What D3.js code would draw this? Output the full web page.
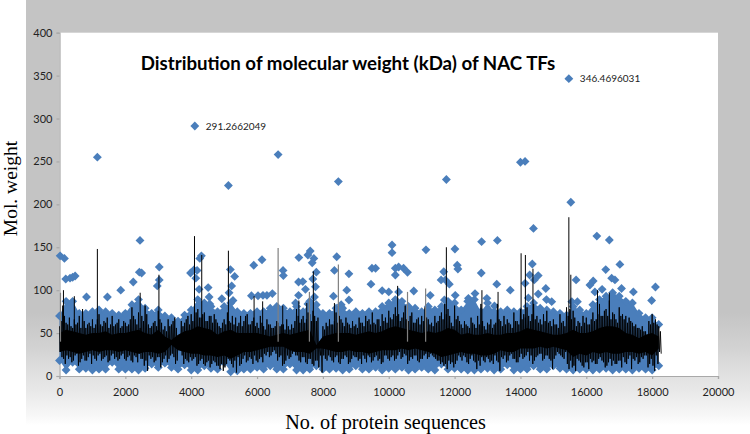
<!DOCTYPE html>
<html>
<head>
<meta charset="utf-8">
<title>Distribution of molecular weight</title>
<script src="https://cdn.jsdelivr.net/npm/d3@7"></script>
<style>
    body { margin: 0; background: #fff; }
    svg { display: block; }
    .axis text { font-family: Lato, "Open Sans", sans-serif; font-size: 11px; fill: #222; }
    .axis path, .axis line { stroke: #a9a9a9; stroke-width: 1.2; }
</style>
</head>
<body>
<script>
const SVG_DIM = {W: 750, H: 434};
const PLOT = {LEFT: 59.5, RIGHT: 718, TOP: 32.7, BOTTOM: 376};

const X_TICKS = [0, 2000, 4000, 6000, 8000, 10000, 12000, 14000, 16000, 18000, 20000];
const Y_TICKS = [0, 50, 100, 150, 200, 250, 300, 350, 400];

// single diamonds standing clear of the dense band
const OUTLIER_X = [1150, 4110, 5130, 6640, 8470, 11750, 14000, 14140, 15470, 15530,
    20, 150, 190, 320, 400, 475, 820, 1455, 1860, 2240, 2445, 2425, 2495, 3030, 3030, 2970,
    3980, 4080, 4180, 4140, 4240, 4515, 4310, 4260, 4545, 4565, 4930, 5190, 5230, 5320, 5150, 5270,
    5900, 6150, 5830, 6030, 6180, 6300, 6465, 6790, 6800, 7270, 7260, 7390, 7470, 7260, 7170,
    7545, 7615, 7725, 7675, 7695, 7800, 7775, 7745, 8420, 8350, 8790, 8725, 8320, 8790, 9490, 9460,
    7545, 7640, 8555, 14395, 16320, 16700, 17020, 10100, 10100, 11130, 12010, 12820, 13300,
    12080, 12100, 12810, 14360, 14280, 14540, 14420, 14140, 13280, 13690, 14770, 14240, 14540,
    14790, 14950, 15690, 16210, 16110, 16590, 16770, 16870, 18100, 17985, 17430, 16480, 17070, 16260,
    10200, 10300, 10200, 10450, 10570, 9600, 10760, 9800, 10000, 10300,
    11670, 11590, 11720, 11840, 11690, 12020, 11260, 12420, 12620, 12980, 13210, 15560, 15730];
const OUTLIER_Y = [255, 291.27, 222, 258, 226.5, 229, 249, 250, 346.47, 202.5,
    140, 137, 113, 114, 115, 116.5, 92, 92, 100, 109.5, 158, 121, 120, 127, 112, 105,
    120, 123.5, 123, 114, 101, 103, 140, 137, 92, 84, 90, 124, 105, 116, 97, 88,
    129, 135.5, 93.5, 93.5, 94, 94, 96, 123, 117, 138, 109.5, 110, 101, 94, 85,
    141, 145.6, 137, 132, 113, 121, 104, 92, 139, 123, 119, 100, 93, 88.5, 125.5, 107,
    84, 84, 83, 172, 163, 158.5, 130, 152.6, 143.7, 147, 148, 156.5, 158,
    129, 124.7, 120, 130.5, 117.7, 117, 112, 108, 107, 100, 102, 91, 95.5,
    89, 86.6, 112, 110.7, 106, 124, 114, 112, 103.7, 88, 98, 101, 102, 98,
    125.5, 127, 117.7, 125.5, 120.8, 125.5, 99, 99.4, 98, 98,
    121.5, 112, 112, 107, 88.5, 94, 94, 90.5, 96, 90.5, 81.5, 86.6, 86.6];

// top and bottom of the solid blue band, every 200 sequences from 0 to 18200
const BAND_X = [0, 200, 400, 600, 800, 1000, 1200, 1400, 1600, 1800,
    2000, 2200, 2400, 2600, 2800, 3000, 3200, 3400, 3600, 3800,
    4000, 4200, 4400, 4600, 4800, 5000, 5200, 5400, 5600, 5800,
    6000, 6200, 6400, 6600, 6800, 7000, 7200, 7400, 7600, 7800,
    8000, 8200, 8400, 8600, 8800, 9000, 9200, 9400, 9600, 9800,
    10000, 10200, 10400, 10600, 10800, 11000, 11200, 11400, 11600, 11800,
    12000, 12200, 12400, 12600, 12800, 13000, 13200, 13400, 13600, 13800,
    14000, 14200, 14400, 14600, 14800, 15000, 15200, 15400, 15600, 15800,
    16000, 16200, 16400, 16600, 16800, 17000, 17200, 17400, 17600, 17800,
    18000, 18200];
const BAND_TOP = [70, 87, 87, 73, 73, 75, 77, 75, 73, 71,
    73, 83, 89, 79, 73, 77, 70, 68, 64, 71,
    77, 89, 85, 81, 75, 81, 85, 75, 73, 73,
    75, 75, 79, 81, 79, 75, 81, 75, 87, 83,
    73, 73, 79, 79, 73, 75, 73, 75, 75, 81,
    85, 89, 87, 81, 79, 75, 81, 77, 81, 87,
    85, 77, 87, 89, 75, 85, 75, 75, 77, 75,
    75, 81, 85, 79, 77, 75, 73, 71, 81, 77,
    73, 83, 89, 93, 97, 93, 87, 85, 73, 68,
    68, 60];
const BAND_BOTTOM = [18, 7, 16, 8, 9, 7, 8, 8, 16, 8,
    8, 8, 7, 9, 14, 10, 15, 10, 8, 13,
    7, 7, 12, 9, 8, 16, 5, 6, 8, 8,
    10, 8, 12, 8, 8, 14, 7, 7, 8, 12,
    8, 8, 9, 7, 8, 12, 8, 8, 10, 7,
    9, 8, 10, 7, 8, 10, 8, 7, 14, 8,
    9, 8, 7, 7, 8, 9, 7, 8, 13, 7,
    8, 8, 12, 8, 8, 12, 9, 8, 7, 8,
    8, 7, 8, 9, 7, 8, 8, 7, 9, 8,
    7, 12];

// solid part of the black series, same x steps as the band
const CORE_TOP = [50, 54, 52, 50, 48, 50, 50, 52, 48, 50,
    50, 52, 54, 50, 48, 54, 46, 42, 48, 52,
    54, 58, 56, 54, 48, 52, 54, 50, 50, 50,
    50, 48, 46, 48, 50, 48, 50, 52, 54, 36,
    46, 48, 50, 50, 50, 48, 50, 52, 50, 52,
    56, 58, 56, 54, 52, 50, 52, 50, 52, 56,
    54, 48, 50, 48, 48, 50, 48, 48, 50, 50,
    52, 56, 54, 52, 50, 48, 48, 50, 54, 50,
    50, 52, 56, 58, 58, 56, 50, 48, 44, 48,
    50, 46];
const CORE_BOTTOM = [28, 30, 28, 26, 28, 30, 28, 30, 30, 28,
    30, 28, 26, 28, 28, 26, 28, 36, 30, 28,
    26, 26, 24, 24, 22, 24, 20, 24, 28, 28,
    30, 32, 34, 34, 34, 30, 28, 28, 26, 32,
    32, 30, 28, 28, 30, 28, 28, 26, 28, 30,
    30, 30, 32, 30, 32, 30, 28, 26, 22, 24,
    26, 28, 26, 26, 24, 24, 26, 30, 28, 28,
    32, 32, 32, 34, 32, 34, 32, 30, 22, 26,
    24, 28, 26, 28, 26, 26, 28, 28, 26, 28,
    24, 32];

// black series as read: highs and lows every 100 sequences from 0 to 18200
const LINE_HIGH = [58, 82, 62, 68, 56, 60, 70, 78, 56, 62,
    66, 60, 72, 58, 62, 56, 70, 60, 66, 58,
    62, 60, 80, 66, 74, 70, 82, 60, 58, 64,
    76, 62, 58, 66, 60, 68, 44, 64, 62, 70,
    72, 80, 78, 68, 74, 64, 70, 72, 62, 56,
    66, 74, 62, 60, 58, 70, 64, 72, 60, 68,
    62, 70, 58, 66, 60, 56, 64, 58, 60, 66,
    54, 56, 78, 62, 70, 66, 72, 76, 64, 40,
    58, 62, 66, 60, 74, 70, 62, 68, 60, 64,
    60, 68, 62, 70, 66, 74, 60, 66, 72, 68,
    76, 66, 80, 72, 68, 82, 64, 74, 62, 68,
    70, 80, 66, 62, 70, 64, 74, 84, 78, 62,
    82, 70, 60, 64, 58, 68, 60, 70, 84, 58,
    62, 66, 60, 84, 64, 70, 66, 60, 74, 64,
    78, 72, 80, 64, 84, 70, 66, 72, 76, 64,
    66, 60, 72, 64, 80, 78, 76, 58, 62, 70,
    68, 60, 74, 66, 84, 70, 78, 88, 74, 66,
    80, 72, 70, 68, 62, 60, 56, 58, 52, 64,
    72, 66, 58];
const LINE_LOW = [22, 14, 20, 16, 24, 12, 20, 18, 22, 14,
    20, 24, 18, 22, 16, 24, 20, 18, 24, 20,
    22, 18, 24, 16, 20, 12, 6, 20, 16, 22,
    10, 20, 16, 24, 22, 18, 34, 14, 18, 22,
    20, 12, 18, 14, 16, 10, 18, 12, 8, 6,
    14, 18, 10, 4, 12, 20, 16, 22, 14, 18,
    20, 16, 24, 22, 28, 26, 22, 12, 18, 20,
    26, 24, 18, 22, 16, 20, 14, 18, 10, 4,
    20, 24, 18, 22, 16, 20, 24, 14, 20, 22,
    18, 14, 20, 24, 16, 22, 18, 14, 24, 20,
    22, 18, 24, 20, 26, 14, 22, 24, 18, 20,
    24, 20, 26, 22, 18, 14, 12, 8, 14, 10,
    18, 22, 24, 16, 20, 18, 8, 12, 18, 22,
    16, 14, 18, 6, 20, 16, 24, 20, 16, 22,
    20, 24, 18, 14, 22, 26, 18, 24, 20, 8,
    24, 26, 22, 28, 8, 10, 6, 18, 12, 16,
    8, 16, 14, 20, 18, 10, 16, 12, 14, 18,
    10, 16, 20, 8, 18, 14, 22, 24, 10, 20,
    6, 14, 26];

// shorter peaks and dips sitting between the ones above
const MID_HIGH = [64, 70, 60, 58, 66, 62, 56, 64, 60, 58,
    56, 66, 60, 64, 68, 60, 58, 62, 56, 64,
    58, 66, 70, 60, 56, 64, 72, 56, 62, 58,
    66, 54, 52, 58, 64, 56, 40, 58, 66, 60,
    64, 74, 68, 72, 64, 70, 62, 66, 58, 62,
    60, 64, 70, 68, 62, 58, 70, 60, 64, 58,
    56, 62, 54, 60, 56, 58, 62, 60, 54, 58,
    60, 64, 70, 66, 62, 74, 64, 70, 68, 36,
    54, 58, 60, 64, 62, 66, 58, 62, 56, 58,
    56, 62, 58, 64, 60, 62, 66, 58, 64, 62,
    68, 72, 70, 64, 74, 66, 70, 62, 66, 60,
    64, 68, 60, 58, 62, 70, 66, 72, 70, 58,
    66, 64, 56, 60, 56, 62, 56, 60, 64, 54,
    60, 56, 62, 66, 58, 60, 62, 56, 64, 60,
    66, 68, 70, 72, 66, 62, 60, 64, 62, 58,
    60, 56, 62, 58, 70, 66, 68, 64, 58, 62,
    60, 66, 64, 72, 70, 76, 70, 66, 72, 62,
    70, 66, 62, 64, 58, 56, 54, 52, 48, 60,
    62, 60, 52];
const MID_LOW = [28, 20, 24, 22, 18, 26, 16, 24, 18, 26,
    24, 18, 26, 20, 24, 18, 26, 22, 20, 26,
    18, 24, 16, 22, 26, 20, 18, 24, 22, 18,
    22, 16, 24, 20, 26, 14, 32, 24, 20, 16,
    18, 22, 14, 20, 12, 18, 14, 16, 12, 14,
    10, 20, 14, 18, 22, 14, 24, 18, 20, 24,
    16, 22, 26, 28, 24, 30, 18, 24, 14, 24,
    22, 28, 24, 16, 22, 14, 20, 12, 18, 24,
    24, 18, 22, 16, 24, 14, 20, 22, 16, 24,
    22, 20, 24, 16, 22, 18, 24, 20, 16, 24,
    18, 24, 20, 28, 22, 24, 18, 20, 24, 16,
    20, 26, 22, 24, 20, 18, 16, 14, 18, 16,
    14, 24, 18, 22, 14, 24, 16, 18, 22, 16,
    20, 18, 24, 16, 22, 24, 18, 26, 20, 16,
    26, 22, 28, 24, 18, 24, 26, 20, 24, 18,
    20, 28, 24, 20, 14, 18, 12, 20, 16, 10,
    16, 20, 18, 14, 22, 16, 12, 20, 18, 14,
    18, 22, 14, 24, 20, 22, 16, 20, 24, 14,
    12, 24, 28];

// tall black peaks, plus the ones that print grey
const SPIKE_X = [120, 450, 1150, 2450, 3020, 4100, 4320, 5130, 5910, 6170, 6780, 7270, 7510, 7710,
    8350, 10270, 11750, 12830, 13320, 14020, 14150, 14380, 15470, 15530, 16340, 16700];
const SPIKE_Y = [100, 93, 148, 97, 118, 163, 141, 146, 93, 87, 82, 88, 85, 122,
    85, 105, 150, 100, 98, 143, 141, 125, 185, 118, 100, 97];
const GREY_SPIKE_X = [30, 6640, 7590, 8470, 10570, 11120];
const GREY_SPIKE_Y = [97, 149, 98, 130, 98, 102];

const LABEL_X = [4110, 15470];
const LABEL_Y = [291.27, 346.47];
const LABEL_TEXT = ['291.2662049', '346.4696031'];

const BLUE = '#4a7ebb';

const svg = d3.select('body').append('svg')
    .attr('width', SVG_DIM.W)
    .attr('height', SVG_DIM.H);

// grey slide background, fades out in steps towards the bottom
const fade = svg.append('defs').append('linearGradient')
    .attr('id', 'fade')
    .attr('x1', 0).attr('x2', 0).attr('y1', 0).attr('y2', 1);
[[0, '#c4c4c4'], [0.72, '#c4c4c4'], [0.8, '#d2d2d2'], [0.85, '#dedede'], [0.9, '#e8e8e8'],
    [0.93, '#f0f0f0'], [0.96, '#f8f8f8'], [0.98, '#ffffff']].forEach(s => {
    fade.append('stop').attr('offset', s[0]).attr('stop-color', s[1]);
});

svg.append('rect')
    .attr('x', 26).attr('y', 0)
    .attr('width', SVG_DIM.W - 26).attr('height', SVG_DIM.H)
    .attr('fill', 'url(#fade)');

svg.append('rect')
    .attr('x', PLOT.LEFT).attr('y', PLOT.TOP)
    .attr('width', PLOT.RIGHT - PLOT.LEFT).attr('height', PLOT.BOTTOM - PLOT.TOP)
    .attr('fill', '#fff');

const x = d3.scaleLinear().domain([0, 20000]).range([PLOT.LEFT, PLOT.RIGHT]);
const y = d3.scaleLinear().domain([0, 400]).range([PLOT.BOTTOM, PLOT.TOP]);

// axes
svg.append('g')
    .attr('class', 'axis')
    .attr('transform', 'translate(0,' + PLOT.BOTTOM + ')')
    .call(d3.axisBottom(x).tickValues(X_TICKS).tickFormat(d3.format('d')).tickSize(3).tickPadding(9));

svg.append('g')
    .attr('class', 'axis')
    .attr('transform', 'translate(' + PLOT.LEFT + ',0)')
    .call(d3.axisLeft(y).tickValues(Y_TICKS).tickSize(3).tickPadding(4));

// blue band
const bandIdx = d3.range(BAND_X.length);

svg.append('path')
    .attr('fill', BLUE)
    .attr('d', d3.area()
        .x(i => x(BAND_X[i]))
        .y0(i => y(BAND_BOTTOM[i]))
        .y1(i => y(BAND_TOP[i]))(bandIdx));

const diamond = d3.symbol().type(d3.symbolDiamond2).size(50);

const points = [
    ...OUTLIER_X.map((d, i) => [d, OUTLIER_Y[i]]),
    ...BAND_X.map((d, i) => [d, BAND_TOP[i]]),
    ...BAND_X.map((d, i) => [d, BAND_BOTTOM[i]])
];

svg.append('g').selectAll('path')
    .data(points)
    .enter()
    .append('path')
    .attr('d', diamond)
    .attr('fill', BLUE)
    .attr('transform', d => 'translate(' + x(d[0]) + ',' + y(d[1]) + ')');

// black line: solid core, then the zigzag through all highs and lows
svg.append('path')
    .attr('fill', '#000')
    .attr('d', d3.area()
        .x(i => x(BAND_X[i]))
        .y0(i => y(CORE_BOTTOM[i]))
        .y1(i => y(CORE_TOP[i]))(bandIdx));

const zigzag = [];
LINE_HIGH.forEach((d, i) => {
    zigzag.push([i * 100, d]);
    zigzag.push([i * 100 + 25, MID_LOW[i]]);
    zigzag.push([i * 100 + 50, MID_HIGH[i]]);
    zigzag.push([i * 100 + 75, LINE_LOW[i]]);
});

svg.append('path')
    .attr('fill', 'none')
    .attr('stroke', '#000')
    .attr('stroke-width', 0.9)
    .attr('d', d3.line().x(d => x(d[0])).y(d => y(d[1]))(zigzag));

svg.append('g').selectAll('line')
    .data(GREY_SPIKE_X)
    .enter()
    .append('line')
    .attr('x1', d => x(d)).attr('x2', d => x(d))
    .attr('y1', y(40))
    .attr('y2', (d, i) => y(GREY_SPIKE_Y[i]))
    .attr('stroke', '#808080')
    .attr('stroke-width', 1.2);

svg.append('g').selectAll('line')
    .data(SPIKE_X)
    .enter()
    .append('line')
    .attr('x1', d => x(d)).attr('x2', d => x(d))
    .attr('y1', y(40))
    .attr('y2', (d, i) => y(SPIKE_Y[i]))
    .attr('stroke', '#000')
    .attr('stroke-width', 1);

// data labels
svg.append('g').selectAll('text')
    .data(LABEL_TEXT)
    .enter()
    .append('text')
    .attr('x', (d, i) => x(LABEL_X[i]) + 11)
    .attr('y', (d, i) => y(LABEL_Y[i]) + 3.5)
    .attr('font-family', 'Lato, "Open Sans", sans-serif')
    .attr('font-size', 10)
    .attr('fill', '#222')
    .text(d => d);

// title
svg.append('text')
    .attr('x', 348)
    .attr('y', 70)
    .attr('text-anchor', 'middle')
    .attr('font-family', 'Lato, "Open Sans", sans-serif')
    .attr('font-weight', 700)
    .attr('font-size', 18.7)
    .attr('fill', '#000')
    .text('Distribution of molecular weight (kDa) of NAC TFs');

svg.append('text')
    .attr('x', 385.5)
    .attr('y', 429)
    .attr('text-anchor', 'middle')
    .attr('font-family', '"Liberation Serif", serif')
    .attr('font-size', 20.2)
    .attr('fill', '#000')
    .text('No. of protein sequences');

svg.append('text')
    .attr('transform', 'translate(17,188.5) rotate(-90)')
    .attr('text-anchor', 'middle')
    .attr('font-family', '"Liberation Serif", serif')
    .attr('font-size', 19.5)
    .attr('fill', '#000')
    .text('Mol. weight');
</script>
</body>
</html>
